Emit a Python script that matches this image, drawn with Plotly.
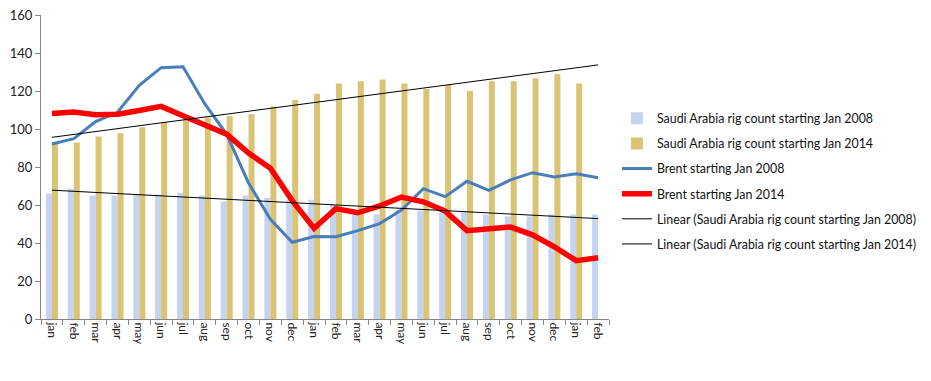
import numpy as np
import plotly.graph_objects as go

months = ["jan", "feb", "mar", "apr", "may", "jun", "jul", "aug", "sep", "oct", "nov", "dec",
          "jan", "feb", "mar", "apr", "may", "jun", "jul", "aug", "sep", "oct", "nov", "dec",
          "jan", "feb"]

rig_2008 = [66, 68.5, 65, 65, 65.5, 65.5, 66.5, 65, 61.8, 65, 63.8, 63,
            62.8, 60, 55, 55, 57.5, 57, 56, 56.6, 55, 54, 54, 55, 55, 55]
rig_2014 = [92.1, 92.9, 96.1, 97.7, 100.9, 103.5, 105.3, 106, 106.7, 107.8, 111.8, 115.2,
            118.5, 124, 125.1, 126.1, 124, 121, 123.3, 120, 125.1, 125.1, 126.7, 128.8,
            124]
brent_2008 = [92.1, 94.9, 103.9, 108.8, 123.0, 132.3, 132.8, 113.2, 97.2, 71.6, 52.5, 40.4,
              43.4, 43.3, 46.5, 50.2, 57.3, 68.6, 64.4, 72.5, 67.7, 73.2, 77.0, 74.7,
              76.4, 74.3]
brent_2014 = [108.1, 108.9, 107.5, 107.8, 109.7, 111.9, 107.0, 101.9, 97.3, 87.3, 79.4, 62.3,
              47.8, 58.1, 55.9, 59.5, 64.2, 61.7, 56.8, 46.5, 47.6, 48.4, 44.3, 38.0,
              30.7, 32.2]

idx = np.arange(len(months))
idx14 = np.arange(len(rig_2014))

# Linear trendlines (least squares, as in Excel)
c08 = np.polyfit(idx, rig_2008, 1)
c14 = np.polyfit(idx14, rig_2014, 1)
trend08 = np.polyval(c08, idx)
trend14 = np.polyval(c14, idx)

FONT = "Lato"
fig = go.Figure()
fig.add_trace(go.Bar(x=idx, y=rig_2008, name="Saudi Arabia rig count starting Jan 2008",
                     marker=dict(color="#c4d3ef", line=dict(width=0)), legendgroup="a"))
fig.add_trace(go.Bar(x=idx14, y=rig_2014, name="Saudi Arabia rig count starting Jan 2014",
                     marker=dict(color="#d9c375", line=dict(width=0)), legendgroup="b"))
fig.add_trace(go.Scatter(x=idx, y=brent_2008, name="Brent starting Jan 2008", mode="lines",
                         line=dict(color="#4a7ebb", width=3), legendgroup="c"))
fig.add_trace(go.Scatter(x=idx, y=brent_2014, name="Brent starting Jan 2014", mode="lines",
                         line=dict(color="#ff0000", width=5.5), legendgroup="d"))
fig.add_trace(go.Scatter(x=idx, y=trend08, name="Linear (Saudi Arabia rig count starting Jan 2008)",
                         mode="lines", line=dict(color="#000000", width=1), legendgroup="e"))
fig.add_trace(go.Scatter(x=idx, y=trend14, name="Linear (Saudi Arabia rig count starting Jan 2014)",
                         mode="lines", line=dict(color="#000000", width=1), legendgroup="f"))

fig.update_layout(
    width=923, height=373,
    margin=dict(l=33, r=322, t=7, b=62, autoexpand=False),
    paper_bgcolor="white", plot_bgcolor="white",
    barmode="group", bargap=0.45, bargroupgap=0,
    font=dict(family=FONT, size=12, color="#222222"),
    legend=dict(x=1.014, y=0.708, xanchor="left", yanchor="top",
                font=dict(family=FONT, size=12.4, color="#111111"),
                tracegroupgap=6, itemwidth=30, bgcolor="rgba(0,0,0,0)"),
    xaxis=dict(range=[-0.5, 25.5], tickmode="array", tickvals=idx, ticktext=months,
               tickangle=90, ticks="", showgrid=False, zeroline=False, automargin=False,
               showline=True, linecolor="#868686", linewidth=1,
               minor=dict(tickmode="array", tickvals=np.arange(-0.5, 26, 1), ticks="outside",
                          ticklen=5, tickcolor="#868686", showgrid=False),
               tickfont=dict(family=FONT, size=12)),
    yaxis=dict(range=[0, 160], dtick=20, ticks="outside", ticklen=5, tickcolor="#868686",
               showgrid=False, zeroline=False, showline=True, linecolor="#868686", linewidth=1,
               automargin=False, ticklabeloverflow="allow",
               tickfont=dict(family=FONT, size=13)),
)

fig.write_html("out.html")
